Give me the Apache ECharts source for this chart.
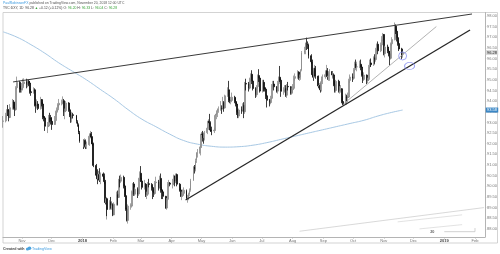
<!DOCTYPE html>
<html><head><meta charset="utf-8">
<script src="https://cdn.jsdelivr.net/npm/echarts@6/dist/echarts.min.js"></script>
<style>html,body{margin:0;padding:0;background:#fff}#c{width:500px;height:254px}</style>
</head><body><div id="c"></div>
<script>
// daily candles: [day, open, close, low, high]
const oct2017 = [[13,93.05,93.07,92.75,93.30],[16,93.07,93.33,93.00,93.45],[17,93.33,93.56,93.20,93.62],[18,93.56,93.53,93.30,93.82],[19,93.53,93.23,93.05,93.63],[20,93.23,93.69,93.20,93.86],[23,93.69,93.96,93.60,94.10],[24,93.96,93.67,93.60,94.05],[25,93.67,93.60,93.30,93.90],[26,93.60,94.63,93.55,94.70],[27,94.63,94.88,94.55,95.15],[30,94.88,94.56,94.40,94.95],[31,94.56,94.55,94.40,94.72]];
const nov2017 = [[1,94.55,94.63,94.40,94.85],[2,94.63,94.82,94.50,95.05],[3,94.82,94.90,94.70,95.07],[6,94.90,94.78,94.60,95.05],[7,94.78,94.92,94.65,95.02],[8,94.92,94.85,94.70,95.00],[9,94.85,94.44,94.35,94.95],[10,94.44,94.40,94.25,94.55],[13,94.40,94.53,94.35,94.65],[14,94.53,93.82,93.75,94.60],[15,93.82,93.78,93.45,93.95],[16,93.78,93.86,93.65,94.08],[17,93.86,93.65,93.58,94.00],[20,93.65,94.07,93.60,94.20],[21,94.07,93.86,93.75,94.10],[22,93.86,93.25,93.15,93.95],[23,93.25,93.21,93.05,93.32],[24,93.21,92.82,92.60,93.30],[27,92.82,92.83,92.50,93.02],[28,92.83,93.20,92.78,93.35],[29,93.20,93.19,93.00,93.45],[30,93.19,93.05,92.90,93.35]];
const dec2017 = [[1,93.05,92.90,92.65,93.25],[4,92.90,93.09,92.95,93.30],[5,93.09,93.48,93.00,93.55],[6,93.48,93.59,93.35,93.70],[7,93.59,93.82,93.55,93.90],[8,93.82,93.90,93.70,94.10],[11,93.90,93.94,93.80,94.07],[12,93.94,94.02,93.85,94.22],[13,94.02,93.50,93.30,94.10],[14,93.50,93.55,93.15,93.65],[15,93.55,93.91,93.50,94.00],[18,93.91,93.59,93.50,93.95],[19,93.59,93.33,93.25,93.70],[20,93.33,93.18,92.98,93.45],[21,93.18,93.36,93.00,93.50],[22,93.36,93.33,93.20,93.45],[26,93.33,93.04,92.95,93.35],[27,93.04,92.90,92.80,93.10],[28,92.90,92.53,92.45,92.95],[29,92.53,92.12,92.05,92.60]];
const jan2018 = [[2,92.12,91.87,91.75,92.20],[3,91.87,92.15,91.80,92.25],[4,92.15,91.87,91.75,92.20],[5,91.87,91.95,91.75,92.10],[8,91.95,92.35,91.90,92.40],[9,92.35,92.47,92.25,92.60],[10,92.47,92.31,92.00,92.55],[11,92.31,91.99,91.90,92.35],[12,91.99,90.98,90.90,92.05],[15,90.98,90.52,90.45,91.05],[16,90.52,90.35,90.10,90.80],[17,90.35,90.55,90.30,90.72],[18,90.55,90.29,90.20,90.85],[19,90.29,90.58,90.10,90.65],[22,90.58,90.47,90.35,90.65],[23,90.47,90.22,90.10,90.60],[24,90.22,89.24,89.15,90.30],[25,89.24,89.42,88.44,89.50],[26,89.42,88.91,88.60,89.45],[29,88.91,89.25,88.90,89.35],[30,89.25,89.12,88.95,89.50],[31,89.12,89.13,88.90,89.30]];
const feb2018 = [[1,89.13,88.66,88.60,89.20],[2,88.66,89.16,88.65,89.25],[5,89.16,89.62,89.10,89.75],[6,89.62,89.48,89.10,89.80],[7,89.48,90.28,89.45,90.35],[8,90.28,90.24,89.95,90.50],[9,90.24,90.42,90.15,90.55],[12,90.42,90.02,89.90,90.50],[13,90.02,89.56,89.50,90.10],[14,89.56,88.93,88.85,89.90],[15,88.93,88.40,88.35,89.00],[16,88.40,89.07,88.25,89.15],[19,89.07,89.07,88.90,89.20],[20,89.07,89.75,89.00,89.80],[21,89.75,90.11,89.60,90.15],[22,90.11,89.63,89.55,90.20],[23,89.63,89.86,89.55,89.95],[26,89.86,89.64,89.45,89.95],[27,89.64,90.34,89.55,90.40],[28,90.34,90.61,90.25,90.70]];
const mar2018 = [[1,90.61,90.25,90.20,90.95],[2,90.25,89.95,89.85,90.40],[5,89.95,90.10,89.85,90.30],[6,90.10,89.60,89.50,90.15],[7,89.60,89.63,89.40,89.75],[8,89.63,90.12,89.55,90.20],[9,90.12,90.09,89.95,90.35],[12,90.09,89.94,89.80,90.15],[13,89.94,89.72,89.40,90.00],[14,89.72,89.66,89.50,89.85],[15,89.66,90.17,89.60,90.25],[16,90.17,90.20,90.00,90.45],[19,90.20,89.93,89.80,90.30],[20,89.93,90.37,89.90,90.50],[21,90.37,89.82,89.70,90.60],[22,89.82,89.74,89.40,89.95],[23,89.74,89.53,89.40,89.85],[26,89.53,88.98,88.95,89.55],[27,88.98,89.39,88.90,89.45],[28,89.39,90.12,89.30,90.20],[29,90.12,90.15,89.95,90.30],[30,90.15,90.10,90.00,90.20]];
const apr2018 = [[2,90.10,90.13,89.90,90.35],[3,90.13,90.48,90.05,90.55],[4,90.48,90.25,90.00,90.50],[5,90.25,90.55,90.15,90.60],[6,90.55,90.10,90.00,90.60],[9,90.10,89.83,89.75,90.15],[10,89.83,89.54,89.50,89.95],[11,89.54,89.61,89.35,89.75],[12,89.61,89.67,89.50,89.85],[13,89.67,89.81,89.55,89.95],[16,89.81,89.44,89.40,89.85],[17,89.44,89.48,89.23,89.60],[18,89.48,89.63,89.35,89.70],[19,89.63,89.81,89.55,89.90],[20,89.81,90.28,89.75,90.35],[23,90.28,90.91,90.25,90.95],[24,90.91,90.78,90.60,91.00],[25,90.78,91.21,90.70,91.30],[26,91.21,91.55,91.10,91.60],[27,91.55,91.55,91.35,91.75],[30,91.55,91.85,91.45,91.90]];
const may2018 = [[1,91.85,92.45,91.80,92.55],[2,92.45,92.44,92.10,92.60],[3,92.44,92.28,92.00,92.50],[4,92.28,92.52,92.15,92.60],[7,92.52,92.73,92.45,92.80],[8,92.73,93.06,92.65,93.15],[9,93.06,92.98,92.80,93.40],[10,92.98,92.64,92.55,93.05],[11,92.64,92.60,92.40,92.80],[14,92.60,92.64,92.50,92.75],[15,92.64,93.33,92.60,93.40],[16,93.33,93.38,93.15,93.45],[17,93.38,93.55,93.25,93.60],[18,93.55,93.64,93.45,93.75],[21,93.64,93.66,93.55,94.00],[22,93.66,93.65,93.40,93.80],[23,93.65,93.94,93.60,94.20],[24,93.94,93.68,93.50,94.00],[25,93.68,94.25,93.65,94.30],[28,94.25,94.53,94.20,94.65],[29,94.53,94.04,93.95,94.95],[30,94.04,94.01,93.90,94.20],[31,94.01,94.03,93.85,94.20]];
const jun2018 = [[1,94.03,94.18,93.95,94.40],[4,94.18,93.98,93.90,94.25],[5,93.98,93.86,93.75,94.15],[6,93.86,93.46,93.35,93.95],[7,93.46,93.30,93.20,93.60],[8,93.30,93.58,93.20,93.65],[11,93.58,93.57,93.40,93.75],[12,93.57,93.80,93.50,93.90],[13,93.80,93.50,93.20,93.95],[14,93.50,94.83,93.40,94.90],[15,94.83,94.80,94.50,95.05],[18,94.80,94.61,94.45,94.90],[19,94.61,95.03,94.55,95.10],[20,95.03,95.26,94.90,95.30],[21,95.26,94.94,94.80,95.45],[22,94.94,94.59,94.50,95.00],[25,94.59,94.30,94.15,94.65],[26,94.30,94.68,94.20,94.75],[27,94.68,95.20,94.60,95.25],[28,95.20,95.08,94.90,95.50],[29,95.08,94.47,94.40,95.10]];
const jul2018 = [[2,94.47,94.88,94.40,95.00],[3,94.88,94.58,94.45,95.00],[4,94.58,94.56,94.45,94.65],[5,94.56,94.25,94.10,94.65],[6,94.25,94.04,93.70,94.30],[9,94.04,93.93,93.75,94.10],[10,93.93,94.13,93.85,94.25],[11,94.13,94.74,94.10,94.80],[12,94.74,94.80,94.55,94.95],[13,94.80,94.67,94.50,94.95],[16,94.67,94.47,94.40,94.70],[17,94.47,94.83,94.35,94.95],[18,94.83,95.12,94.75,95.15],[19,95.12,94.98,94.90,95.65],[20,94.98,94.46,94.20,95.05],[23,94.46,94.51,94.30,94.65],[24,94.51,94.59,94.40,94.75],[25,94.59,94.28,94.20,94.75],[26,94.28,94.69,94.15,94.80],[27,94.69,94.67,94.50,94.90],[30,94.67,94.37,94.30,94.70],[31,94.37,94.54,94.30,94.65]];
const aug2018 = [[1,94.54,94.60,94.40,94.80],[2,94.60,95.07,94.55,95.20],[3,95.07,95.15,94.95,95.30],[6,95.15,95.36,95.05,95.45],[7,95.36,95.10,95.00,95.40],[8,95.10,95.10,94.95,95.25],[9,95.10,95.45,95.00,95.50],[10,95.45,96.27,95.40,96.35],[13,96.27,96.38,96.20,96.55],[14,96.38,96.73,96.20,96.75],[15,96.73,96.70,96.40,96.98],[16,96.70,96.64,96.45,96.80],[17,96.64,96.13,96.00,96.70],[20,96.13,95.85,95.75,96.20],[21,95.85,95.24,95.15,95.95],[22,95.24,95.12,94.95,95.40],[23,95.12,95.54,95.10,95.70],[24,95.54,95.17,95.05,95.65],[27,95.17,94.71,94.60,95.20],[28,94.71,94.74,94.55,94.85],[29,94.74,94.53,94.40,94.85],[30,94.53,94.91,94.45,95.05],[31,94.91,95.14,94.80,95.25]];
const sep2018 = [[3,95.14,95.24,95.05,95.35],[4,95.24,95.43,95.15,95.70],[5,95.43,95.15,95.00,95.55],[6,95.15,95.18,94.95,95.30],[7,95.18,95.39,94.95,95.50],[10,95.39,95.23,95.10,95.40],[11,95.23,95.23,95.05,95.40],[12,95.23,94.77,94.70,95.30],[13,94.77,94.50,94.40,94.95],[14,94.50,94.93,94.40,95.00],[17,94.93,94.49,94.40,95.00],[18,94.49,94.55,94.35,94.70],[19,94.55,94.58,94.40,94.75],[20,94.58,93.98,93.90,94.60],[21,93.98,93.85,93.81,94.25],[24,93.85,94.20,93.85,94.35],[25,94.20,94.17,94.00,94.30],[26,94.17,94.19,93.95,94.40],[27,94.19,94.97,94.15,95.05],[28,94.97,95.13,94.85,95.25]];
const oct2018 = [[1,95.13,95.07,94.90,95.30],[2,95.07,95.47,95.00,95.55],[3,95.47,95.74,95.40,95.85],[4,95.74,95.61,95.55,95.95],[5,95.61,95.61,95.40,95.85],[8,95.61,95.73,95.55,95.90],[9,95.73,95.60,95.45,95.95],[10,95.60,95.21,95.15,95.70],[11,95.21,95.02,94.85,95.40],[12,95.02,95.22,94.95,95.35],[15,95.22,94.97,94.80,95.25],[16,94.97,95.02,94.85,95.10],[17,95.02,95.62,94.95,95.70],[18,95.62,95.79,95.50,95.95],[19,95.79,95.71,95.60,96.00],[22,95.71,96.03,95.65,96.10],[23,96.03,95.95,95.75,96.20],[24,95.95,96.42,95.85,96.50],[25,96.42,96.67,96.35,96.70],[26,96.67,96.36,96.20,96.80],[29,96.36,96.64,96.30,96.75],[30,96.64,96.87,96.55,97.05],[31,96.87,97.13,96.85,97.20]];
const nov2018 = [[1,97.13,96.23,96.15,97.15],[2,96.23,96.54,96.05,96.60],[5,96.54,96.34,96.25,96.65],[6,96.34,96.22,96.10,96.45],[7,96.22,96.01,95.68,96.35],[8,96.01,96.69,95.95,96.75],[9,96.69,96.89,96.60,97.00],[12,96.89,97.52,96.85,97.69],[13,97.52,97.28,97.15,97.60],[14,97.28,96.98,96.80,97.40],[15,96.98,96.70,96.60,97.15],[16,96.70,96.45,96.35,96.80],[19,96.45,96.16,95.98,96.50],[20,96.20,96.28,96.04,96.33]];

const monthsData = [[2017,10,oct2017],[2017,11,nov2017],[2017,12,dec2017],[2018,1,jan2018],[2018,2,feb2018],[2018,3,mar2018],[2018,4,apr2018],[2018,5,may2018],[2018,6,jun2018],[2018,7,jul2018],[2018,8,aug2018],[2018,9,sep2018],[2018,10,oct2018],[2018,11,nov2018]];

// 200-day moving average
const ma200 = [['2017-10-13',97.25],['2017-10-27',97.0],['2017-11-10',96.65],['2017-11-24',96.25],['2017-12-08',95.8],['2017-12-22',95.4],['2018-01-05',95.0],['2018-01-19',94.55],['2018-02-02',94.1],['2018-02-16',93.6],['2018-03-02',93.15],['2018-03-16',92.8],['2018-03-30',92.45],['2018-04-13',92.15],['2018-04-27',91.98],['2018-05-11',91.88],['2018-05-25',91.84],['2018-06-08',91.86],['2018-06-22',91.93],['2018-07-06',92.05],['2018-07-20',92.2],['2018-08-03',92.35],['2018-08-17',92.5],['2018-08-31',92.65],['2018-09-14',92.8],['2018-09-28',92.95],['2018-10-12',93.1],['2018-10-26',93.3],['2018-11-09',93.47],['2018-11-20',93.58]];

// drawn trend lines
const upperLine = [['2017-10-23',94.90],['2019-01-29',98.09]];
const lowerLine = [['2018-04-15',89.36],['2019-01-27',97.34]];
const thinLine = [['2018-09-21',93.85],['2018-12-24',97.5]];
const circles = [['2018-11-20',96.12],['2018-11-27',95.65]];
// faint drawings near the bottom right
const faintLine = [['2018-08-08',87.89],['2019-02-10',89.0]];
const faintSeg1 = [['2018-11-15',88.33],['2019-01-19',88.66]];
const faintSeg2 = [['2018-12-07',88.0],['2019-01-19',88.2]];
const faintStep = [['2019-01-01',87.87],['2019-02-01',87.87],['2019-02-01',88.04]];
const dayMark = [['2018-12-20',87.86,'20']];

const lastPrice = 96.28;
const maLast = 93.58;

const yTicks = [88,88.5,89,89.5,90,90.5,91,91.5,92,92.5,93,93.5,94,94.5,95,95.5,96,96.5,97,97.5,98];
const xTickDates = ['2017-11-01','2017-12-01','2018-01-01','2018-02-01','2018-03-01','2018-04-01','2018-05-01','2018-06-01','2018-07-01','2018-08-01','2018-09-01','2018-10-01','2018-11-01','2018-12-01','2019-01-01','2019-02-01'];
const xTickLabels = ['Nov','Dec','2018','Feb','Mar','Apr','May','Jun','Jul','Aug','Sep','Oct','Nov','Dec','2019','Feb'];

const candles = [];
monthsData.forEach(([y,m,arr]) => arr.forEach(d => candles.push([new Date(y,m-1,d[0]).getTime(), d[1], d[2], d[3], d[4]])));
const toT = s => { const p = s.split('-').map(Number); return new Date(p[0],p[1]-1,p[2]).getTime(); };
const xTickTimes = xTickDates.map(toT);
const xMin = new Date(2017,9,12,20).getTime();
const xMax = new Date(2019,1,11,2).getTime();
const pts = a => a.map(p => [toT(p[0]), p[1]]);

const chart = echarts.init(document.getElementById('c'), null, {renderer:'canvas'});
const FONT = 'Liberation Sans';
const trend = (data, color, width) => ({type:'line', data: pts(data), symbol:'none', silent:true, lineStyle:{color, width}, z:4});

chart.setOption({
  animation:false,
  backgroundColor:'#fff',
  grid:{left:3, right:15, top:12.5, bottom:17},
  xAxis:{
    type:'value', min:xMin, max:xMax, scale:true,
    axisLine:{show:true, lineStyle:{color:'#b4b4b4', width:1}},
    axisTick:{show:true, customValues:xTickTimes, length:1.5, lineStyle:{color:'#b4b4b4'}},
    axisLabel:{customValues:xTickTimes, fontSize:4, color:'#777', margin:1.8, fontFamily:FONT,
      formatter:(v)=>{ let i = 0, best = Infinity; xTickTimes.forEach((t,k)=>{ const d = Math.abs(t-v); if (d<best){best=d;i=k;} }); const s = xTickLabels[i]; return /^\d{4}$/.test(s) ? '{b|'+s+'}' : s; },
      rich:{b:{fontSize:4, fontWeight:'bold', color:'#444', fontFamily:FONT}}},
    splitLine:{show:false}
  },
  yAxis:{
    type:'value', position:'right', min:87.62, max:98.16, scale:true,
    axisLine:{show:true, lineStyle:{color:'#b4b4b4', width:1}},
    axisTick:{show:true, customValues:yTicks, length:1.2, lineStyle:{color:'#b4b4b4'}},
    axisLabel:{customValues:yTicks, fontSize:4, color:'#777', margin:2, fontFamily:FONT, formatter:v=>v.toFixed(2)},
    splitLine:{show:false}
  },
  series:[
    {type:'line', name:'MA200', data: pts(ma200), symbol:'none', smooth:true, silent:true, lineStyle:{color:'#a7c8e4', width:1}, z:2},
    {type:'candlestick', name:'DXY', data: candles, barWidth:1.4, encode:{x:0, y:[1,2,3,4]}, z:3,
      itemStyle:{color:'#b0b0b0', color0:'#0c0c0c', borderColor:'#8c8c8c', borderColor0:'#0c0c0c', borderWidth:0.8},
      markPoint:{silent:true, symbol:'rect', symbolSize:[12.5,5], symbolOffset:[7,0],
        data:[
          {coord:[xMax, lastPrice], itemStyle:{color:'#d9d9d9'}, label:{show:true, formatter:lastPrice.toFixed(2), fontSize:4, color:'#222', fontFamily:FONT}},
          {coord:[xMax, maLast], itemStyle:{color:'#3b87c5'}, label:{show:true, formatter:maLast.toFixed(2), fontSize:4, color:'#fff', fontFamily:FONT}}
        ]}
    },
    trend(upperLine, '#3a3a3a', 1),
    trend(lowerLine, '#262626', 1.3),
    trend(thinLine, '#a0a0a0', 0.8),
    trend(faintLine, '#cfcfcf', 0.8),
    trend(faintSeg1, '#d6d6d6', 0.7),
    trend(faintSeg2, '#d6d6d6', 0.7),
    trend(faintStep, '#bdbdbd', 0.7),
    {type:'scatter', data: dayMark.map(p=>[toT(p[0]), p[1], p[2]]), symbolSize:0, silent:true, z:5,
      label:{show:true, formatter:p=>p.data[2], position:'inside', fontSize:3.8, fontWeight:'bold', color:'#333', fontFamily:FONT}},
    {type:'scatter', data: pts(circles), symbol:'circle', symbolSize:(v,p)=> p.dataIndex===0 ? [8,8] : [10,7], silent:true, z:5,
      itemStyle:{color:'rgba(0,0,0,0)', borderColor:'#8088f0', borderWidth:0.9}}
  ],
  graphic:[
    {type:'rect', shape:{x:3, y:12.5, width:494.5, height:230.5}, style:{fill:'none', stroke:'#c8c8c8', lineWidth:0.8}, silent:true, z:-1},
    {type:'text', left:3, top:1.3, style:{text:'{a|PaulRobinsonFX} published on TradingView.com, November 20, 2018 12:00 UTC', fontSize:3.4, fill:'#555', fontFamily:FONT,
      rich:{a:{fill:'#3d9be0', fontSize:3.4, fontFamily:FONT}}}},
    {type:'text', left:3, top:6.8, style:{text:'TVC:DXY, 1D  96.28 {g|▲} +0.12 (+0.12%) O: {g|96.20} H: {g|96.33} L: {g|96.04} C: {g|96.28}', fontSize:3.4, fill:'#444', fontFamily:FONT,
      rich:{g:{fill:'#3aa33a', fontSize:3.4, fontFamily:FONT}}}},
    {type:'text', left:3, top:247, style:{text:'Created with', fontSize:3.6, fontWeight:'bold', fill:'#444', fontFamily:FONT}},
    {type:'circle', shape:{cx:27.5, cy:249, r:1.6}, style:{fill:'#4aa3df'}},
    {type:'circle', shape:{cx:29.5, cy:248.3, r:1.8}, style:{fill:'#4aa3df'}},
    {type:'text', left:32, top:247, style:{text:'TradingView', fontSize:3.6, fill:'#3d9be0', fontFamily:FONT}}
  ]
});
</script></body></html>
